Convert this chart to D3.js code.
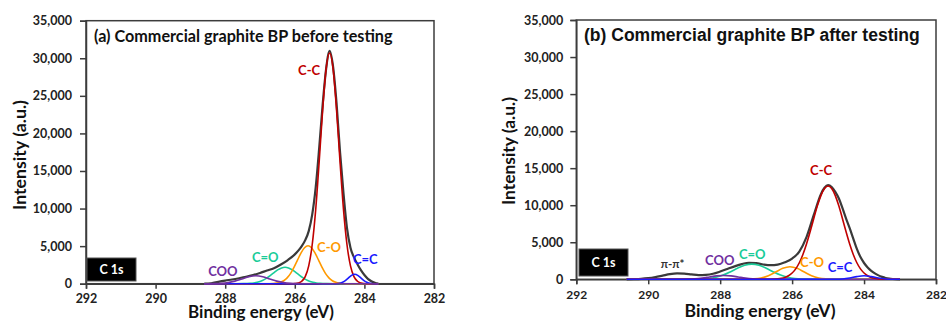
<!DOCTYPE html>
<html><head><meta charset="utf-8">
<script src="https://cdn.jsdelivr.net/npm/d3@7"></script>
<style>body{margin:0;background:#fff}svg{display:block}</style>
</head><body><svg id="c" width="946" height="322"></svg>
<script>
// ---------- DATA (binding energy eV, intensity a.u.) ----------
const xTicks = [292, 290, 288, 286, 284, 282];
const yTicks = [0, 5000, 10000, 15000, 20000, 25000, 30000, 35000];

// Panel (a): before testing
const aEnvelope = [[288.6,0],[288.4,50],[288.2,250],[288.0,420],[287.8,560],[287.6,730],[287.4,920],[287.2,1150],[287.0,1430],[286.8,1750],[286.6,2050],[286.4,2550],[286.2,3150],[286.0,3900],[285.9,4400],[285.8,5000],[285.7,5800],[285.6,7000],[285.5,9200],[285.4,12800],[285.3,18000],[285.2,23800],[285.1,28600],[285.0,31000],[284.9,28900],[284.8,24000],[284.7,17500],[284.6,12000],[284.5,7400],[284.4,4800],[284.3,3500],[284.2,2600],[284.1,1800],[284.0,1150],[283.9,650],[283.8,330],[283.7,120],[283.6,0]];
const aCC  = [[288.6,0],[286.1,0],[286.0,25],[285.9,96],[285.8,323],[285.7,940],[285.6,2370],[285.5,5180],[285.4,9830],[285.3,16200],[285.2,23100],[285.1,28600],[285.0,30700],[284.9,28600],[284.8,23100],[284.7,16200],[284.6,9830],[284.5,5180],[284.4,2370],[284.3,940],[284.2,323],[284.1,96],[284.0,25],[283.9,0],[283.6,0]];
const aCO  = [[288.6,0],[286.82,0],[286.62,28],[286.52,75],[286.42,181],[286.32,394],[286.22,776],[286.12,1375],[286.02,2200],[285.92,3160],[285.82,4100],[285.72,4790],[285.62,5050],[285.52,4790],[285.42,4100],[285.32,3160],[285.22,2200],[285.12,1375],[285.02,776],[284.92,394],[284.82,181],[284.72,75],[284.62,28],[284.42,0],[283.6,0]];
const aCdO = [[288.6,0],[287.68,0],[287.48,8],[287.28,46],[287.18,96],[287.08,185],[286.98,329],[286.88,545],[286.78,830],[286.68,1180],[286.58,1540],[286.48,1870],[286.38,2100],[286.28,2180],[286.18,2100],[286.08,1870],[285.98,1540],[285.88,1180],[285.78,830],[285.68,545],[285.58,329],[285.48,185],[285.38,96],[285.28,46],[285.08,8],[284.88,0],[283.6,0]];
const aCOO = [[288.6,0],[288.52,0],[288.32,12],[288.12,46],[287.92,142],[287.72,341],[287.52,637],[287.32,927],[287.12,1050],[286.92,927],[286.72,637],[286.52,341],[286.32,142],[286.12,46],[285.92,12],[285.72,0],[283.6,0]];
const aCdC = [[288.6,0],[284.88,0],[284.78,26],[284.68,106],[284.58,312],[284.48,675],[284.38,1070],[284.28,1250],[284.18,1070],[284.08,675],[283.98,312],[283.88,106],[283.78,26],[283.68,0],[283.6,0]];

// Panel (b): after testing
const bEnvelope = [[290.6,0],[290.4,20],[290.2,60],[290.0,150],[289.8,300],[289.6,500],[289.4,700],[289.2,800],[289.0,770],[288.8,660],[288.6,560],[288.4,600],[288.2,750],[288.0,1050],[287.8,1400],[287.6,1750],[287.4,2050],[287.2,2230],[287.0,2180],[286.8,2000],[286.6,1900],[286.4,1980],[286.2,2300],[286.0,2800],[285.8,3750],[285.6,5700],[285.4,8650],[285.2,11500],[285.1,12350],[285.0,12700],[284.9,12450],[284.8,11800],[284.7,10900],[284.6,9600],[284.5,8200],[284.4,6900],[284.3,5500],[284.2,4100],[284.1,3000],[284.0,2200],[283.9,1600],[283.8,1150],[283.7,800],[283.6,530],[283.5,330],[283.4,180],[283.3,90],[283.2,40],[283.0,0]];
const bCC  = [[290.6,0],[286.7,0],[286.5,29],[286.4,63],[286.3,131],[286.2,257],[286.1,480],[286.0,845],[285.9,1410],[285.8,2235],[285.7,3350],[285.6,4760],[285.5,6410],[285.4,8180],[285.3,9880],[285.2,11300],[285.1,12260],[285.0,12600],[284.9,12260],[284.8,11300],[284.7,9880],[284.6,8180],[284.5,6410],[284.4,4760],[284.3,3350],[284.2,2235],[284.1,1410],[284.0,845],[283.9,480],[283.8,257],[283.7,131],[283.6,63],[283.5,29],[283.3,0],[283.0,0]];
const bCO  = [[290.6,0],[287.46,0],[287.26,12],[287.06,53],[286.86,186],[286.66,489],[286.46,977],[286.26,1480],[286.06,1700],[285.86,1480],[285.66,977],[285.46,489],[285.26,186],[285.06,53],[284.86,12],[284.66,0],[283.0,0]];
const bCdO = [[290.6,0],[288.92,0],[288.72,12],[288.52,41],[288.32,115],[288.12,277],[287.92,570],[287.72,998],[287.52,1490],[287.32,1890],[287.12,2050],[286.92,1890],[286.72,1490],[286.52,998],[286.32,570],[286.12,277],[285.92,115],[285.72,41],[285.52,12],[285.32,0],[283.0,0]];
const bCOO = [[290.6,0],[289.3,0],[289.1,6],[288.9,23],[288.7,70],[288.5,169],[288.3,316],[288.1,459],[287.9,520],[287.7,459],[287.5,316],[287.3,169],[287.1,70],[286.9,23],[286.7,6],[286.5,0],[283.0,0]];
const bCdC = [[290.6,0],[285.0,0],[284.8,8],[284.6,47],[284.4,169],[284.2,364],[284.0,470],[283.8,364],[283.6,169],[283.4,47],[283.2,8],[283.0,0]];

// ---------- DRAWING ----------
const svg = d3.select('#c');
const LATO = 'Lato, "DejaVu Sans", sans-serif';
const ARIAL = '"Liberation Sans", Arial, sans-serif';
const AX = '#3c3c3c';
const COL = {env:'#3a3a3a', cc:'#c00000', co:'#ff9900', cdo:'#19cc99', coo:'#7030a0', cdc:'#1a1aff'};

function fit(sel, target){
  const w = sel.node().getComputedTextLength();
  const fs = parseFloat(sel.attr('font-size'));
  sel.attr('font-size', (fs*target/w).toFixed(2));
  return sel;
}

function panel(cfg){
  const x = d3.scaleLinear().domain([292,282]).range([cfg.x0,cfg.x1]);
  const y = d3.scaleLinear().domain([0,35000]).range([cfg.y1,cfg.y0]);
  const g = svg.append('g');

  const xa = g.append('g').attr('transform',`translate(0,${cfg.y1})`)
    .call(d3.axisBottom(x).tickValues(xTicks).tickSize(5).tickPadding(cfg.xpad).tickFormat(d3.format('d')));
  const ya = g.append('g').attr('transform',`translate(${cfg.x0},0)`)
    .call(d3.axisLeft(y).tickValues(yTicks).tickSize(6).tickPadding(cfg.ypad).tickFormat(d3.format(',')));
  [xa,ya].forEach(a=>{
    a.selectAll('path,line').attr('stroke',AX).attr('stroke-width',1.5);
    a.selectAll('text').attr('font-family',LATO).attr('font-weight','bold').attr('fill','#222');
  });
  xa.selectAll('text').attr('font-size',cfg.xfs);
  ya.selectAll('text').attr('font-size',12.5);

  g.append('rect').attr('x',cfg.x0).attr('y',cfg.y0).attr('width',cfg.x1-cfg.x0).attr('height',cfg.y1-cfg.y0)
    .attr('fill','none').attr('stroke',AX).attr('stroke-width',1.5);

  const line = d3.line().x(d=>x(d[0])).y(d=>y(d[1])).curve(d3.curveMonotoneX);
  g.append('path').datum(cfg.env).attr('d',line).attr('fill','none').attr('stroke',COL.env).attr('stroke-width',2.2);
  cfg.comps.forEach(c=>{
    g.append('path').datum(c.data).attr('d',line).attr('fill','none').attr('stroke',c.color).attr('stroke-width',1.6);
  });

  // peak labels
  cfg.labels.forEach(l=>{
    g.append('text').attr('x',x(l.be)).attr('y',y(l.i)).attr('text-anchor',l.anchor||'start')
      .attr('font-family',LATO).attr('font-weight','bold').attr('font-size',l.fs||13).attr('fill',l.color).text(l.t);
  });

  // C 1s box
  g.append('rect').attr('x',cfg.box[0]).attr('y',cfg.box[1]).attr('width',cfg.box[2]).attr('height',cfg.box[3])
    .attr('fill','#000').attr('stroke','#555').attr('stroke-width',1);
  g.append('text').attr('x',cfg.box[0]+cfg.box[2]/2).attr('y',cfg.box[1]+cfg.box[3]/2+4.5).attr('text-anchor','middle')
    .attr('font-family',LATO).attr('font-weight','bold').attr('font-size',12.5).attr('fill','#fff').text('C 1s');

  // title
  fit(g.append('text').attr('x',cfg.title.x).attr('y',cfg.title.y).attr('font-family',cfg.title.font)
    .attr('font-weight','bold').attr('font-size',15).attr('fill','#111').text(cfg.title.t), cfg.title.w);

  // axis titles
  fit(g.append('text').attr('x',cfg.xt.x).attr('y',cfg.xt.y).attr('text-anchor','middle').attr('font-family',LATO)
    .attr('font-weight','bold').attr('font-size',16).attr('fill','#111').text('Binding energy (eV)'), cfg.xt.w);
  fit(g.append('text').attr('transform',`translate(${cfg.yt.x},${cfg.yt.y}) rotate(-90)`).attr('text-anchor','middle')
    .attr('font-family',LATO).attr('font-weight','bold').attr('font-size',16).attr('fill','#111').attr('dy','0.35em')
    .text('Intensity (a.u.)'), cfg.yt.w);
}

panel({
  x0:86, x1:434, y0:20.7, y1:283.7, xpad:5, ypad:8, xfs:12.5,
  env:aEnvelope,
  comps:[{data:aCdO,color:COL.cdo},{data:aCO,color:COL.co},{data:aCC,color:COL.cc},{data:aCdC,color:COL.cdc},{data:aCOO,color:COL.coo}],
  labels:[
    {t:'C-C', be:285.59, i:27800, color:COL.cc, anchor:'middle'},
    {t:'C-O', be:285.36, i:4200, color:COL.co},
    {t:'C=C', be:284.33, i:2600, color:COL.cdc},
    {t:'C=O', be:287.23, i:2880, color:COL.cdo},
    {t:'COO', be:288.49, i:1020, color:COL.coo}
  ],
  box:[87,258,49,23],
  title:{t:'(a) Commercial graphite BP before testing', x:94, y:42, w:299, font:LATO},
  xt:{x:261, y:318, w:146},
  yt:{x:20, y:155, w:110}
});

panel({
  x0:576.3, x1:936, y0:20, y1:279.3, xpad:6, ypad:7, xfs:12,
  env:bEnvelope,
  comps:[{data:bCdO,color:COL.cdo},{data:bCO,color:COL.co},{data:bCOO,color:COL.coo},{data:bCC,color:COL.cc},{data:bCdC,color:COL.cdc}],
  labels:[
    {t:'C-C', be:285.5, i:14080, color:COL.cc},
    {t:'C=O', be:287.48, i:2740, color:COL.cdo},
    {t:'C-O', be:285.78, i:1675, color:COL.co},
    {t:'C=C', be:285.01, i:985, color:COL.cdc},
    {t:'COO', be:288.42, i:1950, color:COL.coo},
    {t:'π-π*', be:289.65, i:1525, color:'#333', fs:11.5}
  ],
  box:[579,249,49,27],
  title:{t:'(b) Commercial graphite BP after testing', x:584, y:41, w:336, font:ARIAL},
  xt:{x:760, y:317, w:151},
  yt:{x:509, y:151, w:108}
});
</script></body></html>
